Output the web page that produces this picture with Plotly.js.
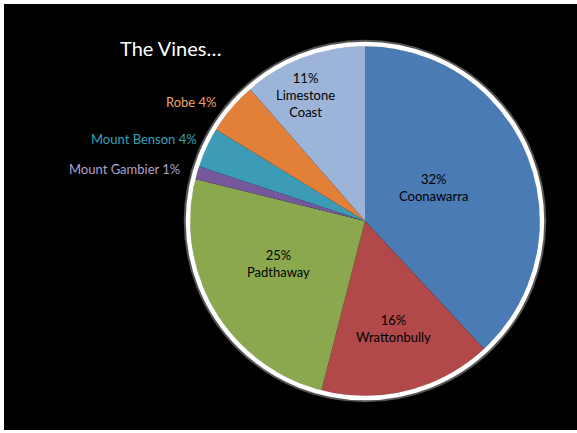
<!DOCTYPE html>
<html>
<head>
<meta charset="utf-8">
<script src="https://cdn.plot.ly/plotly-3.0.1.min.js"></script>
<style>
html,body{margin:0;padding:0;background:#fff;width:577px;height:433px;overflow:hidden;}
#chart{position:absolute;left:4px;top:4px;width:573px;height:426px;background:#000;}
</style>
</head>
<body>
<div id="chart"></div>
<script>
// Data
const regions = ["Coonawarra", "Wrattonbully", "Padthaway", "Mount Gambier", "Mount Benson", "Robe", "Limestone Coast"];
const shares = [38, 15.9, 24.8, 1.2, 3.7, 4.8, 11.4];          // slice sizes as drawn
const pctLabels = ["32%", "16%", "25%", "1%", "4%", "4%", "11%"]; // percentages printed on the chart
const labelLines = ["Coonawarra", "Wrattonbully", "Padthaway", "Mount Gambier", "Mount Benson", "Robe", "Limestone<br>Coast"];
const chartTitle = "The Vines…";

// Styling / layout
const W = 573, H = 426;
const sliceColors = ["#4a7bb5", "#b1494a", "#8ba84f", "#74589b", "#3c9cb7", "#e2803a", "#9db4d9"];
const outsideColors = [null, null, null, "#b0a2ca", "#36a2ba", "#eca26e", null];
const cx = 361, cy = 217, R = 175; // pie centre/radius in chart px
// label anchor points in chart px, and whether inside (two lines) or outside (single line, right aligned)
const labelPos = [
  {x: 429, y: 183, inside: true},
  {x: 389, y: 324, inside: true},
  {x: 274, y: 259, inside: true},
  {x: 178, y: 165, inside: false},
  {x: 195, y: 135, inside: false},
  {x: 215, y: 98, inside: false},
  {x: 301, y: 91, inside: true}
];

const px = x => x / W;
const py = y => 1 - y / H;

const trace = {
  type: "pie",
  labels: regions,
  values: shares,
  sort: false,
  direction: "clockwise",
  rotation: 0,
  textinfo: "none",
  hoverinfo: "label+percent",
  marker: {colors: sliceColors, line: {width: 0}},
  domain: {x: [px(cx - R), px(cx + R)], y: [py(cy + R), py(cy - R)]},
  showlegend: false
};

const font = "Lato, 'Open Sans', sans-serif";
const annotations = regions.map((r, i) => {
  const p = labelPos[i];
  if (p.inside) {
    return {
      xref: "paper", yref: "paper", x: px(p.x), y: py(p.y),
      text: pctLabels[i] + "<br>" + labelLines[i],
      showarrow: false, align: "center", xanchor: "center", yanchor: "middle",
      font: {family: font, size: 13, color: "#000"}
    };
  }
  return {
    xref: "paper", yref: "paper", x: px(p.x), y: py(p.y),
    text: labelLines[i] + " " + pctLabels[i],
    showarrow: false, align: "right", xanchor: "right", yanchor: "middle",
    font: {family: font, size: 13, color: outsideColors[i]}
  };
});

const shapes = [
  {type: "circle", xref: "paper", yref: "paper",
   x0: px(cx - R - 5), x1: px(cx + R + 5), y0: py(cy + R + 5), y1: py(cy - R - 5),
   line: {color: "#555", width: 2.5}, layer: "above"},
  {type: "circle", xref: "paper", yref: "paper",
   x0: px(cx - R - 2), x1: px(cx + R + 2), y0: py(cy + R + 2), y1: py(cy - R - 2),
   line: {color: "#fff", width: 4.5}, layer: "above"}
];

const layout = {
  width: W, height: H,
  margin: {l: 0, r: 0, t: 0, b: 0},
  paper_bgcolor: "#000",
  plot_bgcolor: "#000",
  title: {text: chartTitle, x: px(116), xanchor: "left", y: py(45), yanchor: "middle",
          font: {family: font, size: 20, color: "#fff"}},
  annotations: annotations,
  shapes: shapes
};

Plotly.newPlot("chart", [trace], layout, {staticPlot: true, displayModeBar: false});
</script>
</body>
</html>
